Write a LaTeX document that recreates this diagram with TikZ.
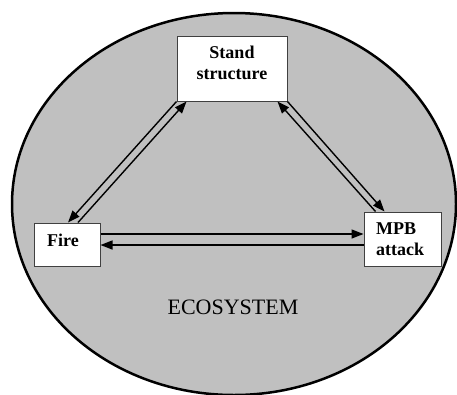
\documentclass[tikz,border=0pt]{standalone}
\usepackage{fontspec}
\setmainfont{Liberation Serif}
\usetikzlibrary{arrows.meta,calc}
\definecolor{ecogray}{HTML}{C0C0C0}
\definecolor{boxline}{HTML}{404040}
\tikzset{
  boxnode/.style={draw=boxline, line width=1pt, fill=white, rectangle, inner sep=0pt},
  lbl/.style={inner sep=0pt, font=\fontsize{18}{21}\selectfont\bfseries},
  arr/.style={line width=1.4pt, -{Triangle[length=12pt,width=9pt]}},
}
\begin{document}
\begin{tikzpicture}[x=1pt,y=-1pt]
\useasboundingbox (0,0) rectangle (457,394);
\draw[fill=ecogray, line width=2.5pt] (234,204) ellipse [x radius=222, y radius=191];
% boxes
\node[boxnode, minimum width=110pt, minimum height=65pt] (stand) at (232,68.5) {};
\node[boxnode, minimum width=66pt, minimum height=43pt] (fire) at (67,244.5) {};
\node[boxnode, minimum width=77pt, minimum height=54pt] (mpb) at (402.5,239) {};
% labels
\node[lbl, align=center, anchor=north] (standtxt) at (232,45.7) {Stand\\structure};
\node[lbl, anchor=base] (firetxt) at (63,246) {Fire};
\node[lbl, align=left, anchor=north west] (mpbtxt) at (376,223) {MPB\\attack};
\node[inner sep=0pt, anchor=base, font=\fontsize{22}{26}\selectfont] (eco) at (233,314) {ECOSYSTEM};
% connectors
\draw[arr] (stand.south west) -- ($(fire.north)+(1,0)$);
\draw[arr] ($(fire.north)+(11,0)$) -- ($(stand.south west)+(10,0)$);
\draw[arr] ($(mpb.north west)+(12,0)$) -- ($(stand.south east)+(-10,0)$);
\draw[arr] (stand.south east) -- ($(mpb.north west)+(21,0)$);
\draw[arr] ($(fire.east)+(0,-10.5)$) -- ($(mpb.west)+(0,-5)$);
\draw[arr] ($(mpb.west)+(0,6)$) -- ($(fire.east)+(0,0.5)$);
\end{tikzpicture}
\end{document}
